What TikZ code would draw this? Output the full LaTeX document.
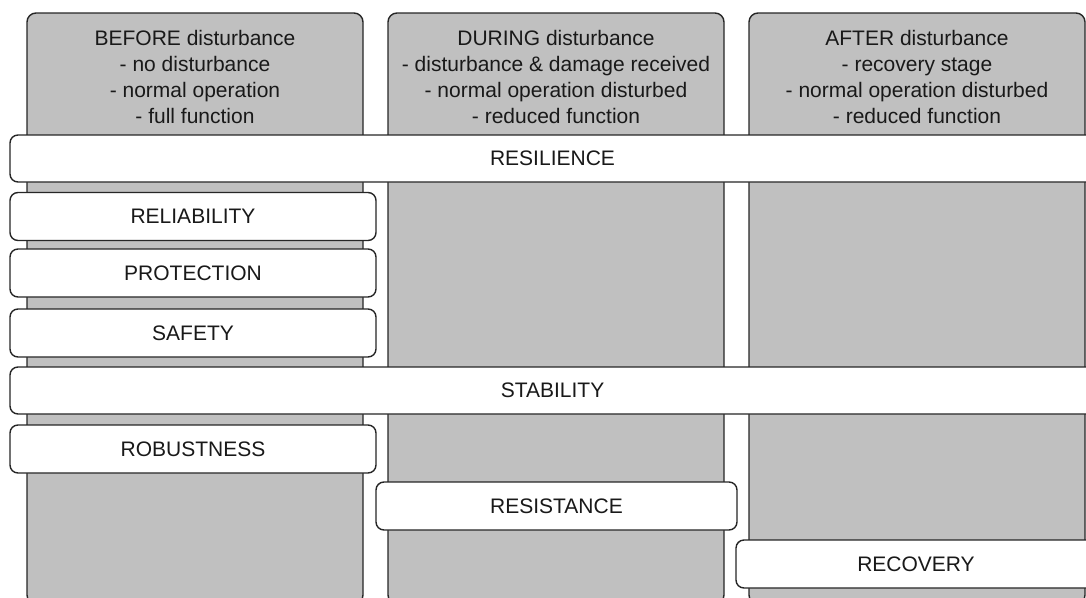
\documentclass[tikz,border=0pt]{standalone}
\usepackage{fontspec}
\setmainfont{Liberation Sans}
\definecolor{colfill}{RGB}{192,192,192}
\definecolor{edge}{RGB}{38,38,38}
\definecolor{ink}{RGB}{25,25,25}
\begin{document}
\begin{tikzpicture}[x=1pt,y=-1pt,
  phase/.style={draw=edge, fill=colfill, line width=1.4pt, rounded corners=9pt,
    inner sep=0pt, minimum width=336pt, minimum height=591pt},
  phasetitle/.style={align=center, font=\fontsize{21}{26}\selectfont, text=ink,
    inner sep=0pt, anchor=base},
  band/.style={draw=edge, fill=white, line width=1.4pt, rounded corners=8pt,
    inner sep=0pt, minimum height=48pt, font=\fontsize{21}{26}\selectfont, text=ink}]
\clip (0,0) rectangle (1086,597);
% the three phase columns
\node[phase] (before) at (195,308.5) {};
\node[phase] (during) at (556,308.5) {};
\node[phase] (after)  at (917,308.5) {};
% titles: the base anchor sits on the last line's baseline
\node[phasetitle] (beforetitle) at (195,123.5)
  {BEFORE disturbance\\- no disturbance\\- normal operation\\- full function};
\node[phasetitle] (duringtitle) at (556,123.5)
  {DURING disturbance\\- disturbance \& damage received\\- normal operation disturbed\\- reduced function};
\node[phasetitle] (aftertitle) at (917,123.5)
  {AFTER disturbance\\- recovery stage\\- normal operation disturbed\\- reduced function};
% property bands laid across the phases
\node[band, minimum width=1085pt, minimum height=47pt] (resilience) at (552.5,158.5) {RESILIENCE};
\node[band, minimum width=366pt] (reliability) at (193,216.5) {RELIABILITY};
\node[band, minimum width=366pt] (protection) at (193,273) {PROTECTION};
\node[band, minimum width=366pt] (safety) at (193,333) {SAFETY};
\node[band, minimum width=1085pt, minimum height=47pt] (stability) at (552.5,390.5) {STABILITY};
\node[band, minimum width=366pt] (robustness) at (193,449) {ROBUSTNESS};
\node[band, minimum width=361pt] (resistance) at (556.5,506) {RESISTANCE};
\node[band, minimum width=360pt] (recovery) at (916,564) {RECOVERY};
\end{tikzpicture}
\end{document}
